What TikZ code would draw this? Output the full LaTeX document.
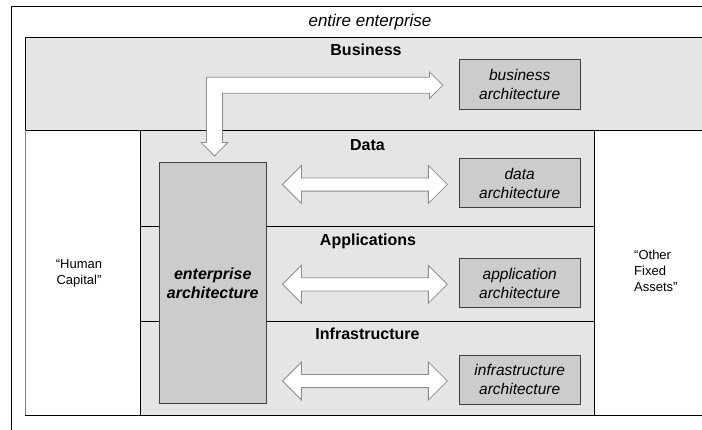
\documentclass[tikz,border=0pt]{standalone}
\usepackage{fontspec}
\setmainfont{Liberation Sans}
\usetikzlibrary{calc}
\definecolor{bandgray}{HTML}{E5E5E5}
\definecolor{boxgray}{HTML}{CCCCCC}
\definecolor{arrowedge}{HTML}{8C8C8C}
\definecolor{boxedge}{HTML}{404040}

% two-headed block arrow between two tip coordinates on one level
\newcommand\twowayarrow[2]{%
  \draw[blockarrow] let \p1=(#1), \p2=(#2), \n1={19pt}, \n2={6.6pt} in
    (\x1,\y1) -- (\x1+\n1,\y1+\n1) -- (\x1+\n1,\y1+\n2) -- (\x2-\n1,\y1+\n2)
    -- (\x2-\n1,\y1+\n1) -- (\x2,\y1) -- (\x2-\n1,\y1-\n1) -- (\x2-\n1,\y1-\n2)
    -- (\x1+\n1,\y1-\n2) -- (\x1+\n1,\y1-\n1) -- cycle;}

\begin{document}
\begin{tikzpicture}[x=1pt,y=-1pt,
  frame/.style={line width=1pt, draw=black},
  band/.style={draw=black, line width=1pt, fill=bandgray, anchor=north west, inner sep=0pt},
  archbox/.style={draw=boxedge, fill=boxgray, line width=0.8pt, minimum width=120.7pt,
    minimum height=49.4pt, inner sep=0pt, align=center,
    font=\fontsize{15.5}{19}\selectfont\itshape},
  eabox/.style={draw=boxedge, fill=boxgray, line width=0.8pt, anchor=north west,
    minimum width=106.7pt, minimum height=241.3pt, inner sep=0pt, align=center,
    font=\fontsize{16}{19}\selectfont\bfseries\itshape},
  layerlabel/.style={anchor=base, inner sep=0pt, font=\fontsize{16}{19}\selectfont\bfseries},
  blockarrow/.style={draw=arrowedge, fill=white, line width=0.8pt, line join=miter},
  sidetext/.style={inner sep=0pt, font=\fontsize{13}{16}\selectfont}]

\useasboundingbox (0,0) rectangle (702,429);

% the whole enterprise
\draw[frame] (11,440) -- (11,6) -- (720,6);
\node[anchor=base, inner sep=0pt, font=\fontsize{17}{20}\selectfont\itshape] (entire) at (370,26) {entire enterprise};

% business band
\node[band, minimum width=700pt, minimum height=93pt] (bizband) at (25,37) {};
\node[layerlabel] (bizlabel) at (366,55) {Business};

% lower band: human capital and other fixed assets
\draw[gray, line width=1pt] (25,130) -- (25,415);
\draw[frame] (25,415) -- (720,415);
\node[sidetext, align=center] (human) at (79,273) {“Human\\Capital”};
\node[sidetext, align=left, anchor=west] (assets) at (634,271) {“Other\\Fixed\\Assets”};

% data, applications and infrastructure layers
\node[band, minimum width=454pt, minimum height=285pt] (core) at (140,130) {};
\draw[frame] (140,226) -- (594,226) (140,321) -- (594,321);
\node[layerlabel] (datalabel) at (367.5,150) {Data};
\node[layerlabel] (applabel) at (368,245.7) {Applications};
\node[layerlabel] (infralabel) at (367.5,339.3) {Infrastructure};

% enterprise architecture spanning the three layers
\node[eabox] (ea) at (159,162) {enterprise\\architecture};

% architecture of each layer
\node[archbox] (bizarch) at (519.7,84.2) {business\\architecture};
\node[archbox] (dataarch) at (519.7,183) {data\\architecture};
\node[archbox] (apparch) at (519.7,283) {application\\architecture};
\node[archbox] (infraarch) at (519.7,379.7) {infrastructure\\architecture};

% bent arrow: business architecture down into enterprise architecture
\path (bizarch.west) ++(-16,1) coordinate (bizTip);
\path (ea.north) ++(1.7,-6) coordinate (eaTip);
\draw[blockarrow] let \p1=(bizTip), \p2=(eaTip) in
  (\x1,\y1) -- (\x1-13.5pt,\y1+13.3pt) -- (\x1-13.5pt,\y1+8pt) -- (\x2-8pt,\y1+8pt)
  -- (\x2-8pt,\y2+13.5pt) -- (\x2-13.3pt,\y2+13.5pt) -- (\x2,\y2)
  -- (\x2+13.3pt,\y2+13.5pt) -- (\x2+8pt,\y2+13.5pt) -- (\x2+8pt,\y1-8pt)
  -- (\x1-13.5pt,\y1-8pt) -- (\x1-13.5pt,\y1-13.3pt) -- cycle;

% two-way arrows between enterprise architecture and each layer
\path (ea.east |- dataarch.west) ++(16,1.5) coordinate (dataL);
\path (dataarch.west) ++(-11.6,1.5) coordinate (dataR);
\path (ea.east |- apparch.west) ++(16,1.3) coordinate (appL);
\path (apparch.west) ++(-11.6,1.3) coordinate (appR);
\path (ea.east |- infraarch.west) ++(16,1.3) coordinate (infraL);
\path (infraarch.west) ++(-11.6,1.3) coordinate (infraR);
\twowayarrow{dataL}{dataR}
\twowayarrow{appL}{appR}
\twowayarrow{infraL}{infraR}

\end{tikzpicture}
\end{document}
